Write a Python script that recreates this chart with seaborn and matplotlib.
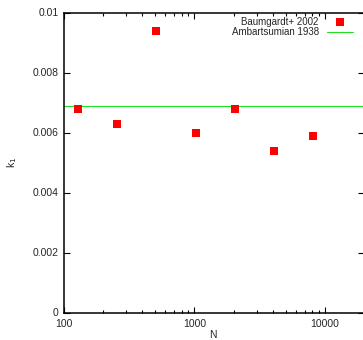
import numpy as np
import pandas as pd
import matplotlib
matplotlib.use("Agg")
import matplotlib.pyplot as plt
import seaborn as sns
from matplotlib.ticker import FixedLocator, FuncFormatter, LogLocator, NullFormatter

sns.set_style("ticks")
plt.rcParams['font.family'] = ['Liberation Sans', 'DejaVu Sans']

N_values = [128, 256, 512, 1024, 2048, 4096, 8192]
k1_values = [0.0068, 0.0063, 0.0094, 0.0060, 0.0068, 0.0054, 0.0059]
ambartsumian_k1 = 0.0069
series_label = "Baumgardt+ 2002"
line_label = "Ambartsumian 1938"
x_ticks = [100, 1000, 10000]
y_ticks = [0, 0.002, 0.004, 0.006, 0.008, 0.01]
y_tick_labels = ["0", "0.002", "0.004", "0.006", "0.008", "0.01"]

df = pd.DataFrame({"N": N_values, "k1": k1_values})

fig = plt.figure(figsize=(3.63, 3.40), dpi=100)
ax = fig.add_axes([64/363, (340-312.5)/340, 300/363, 300/340])

sns.scatterplot(data=df, x="N", y="k1", marker="s", color="#ff0000", s=36,
                linewidth=0, ax=ax, label=series_label, zorder=3)
ax.axhline(ambartsumian_k1, color="#22dd22", lw=0.8, label=line_label, zorder=2)

ax.set_xscale("log")
ax.set_xlim(100, 20000)
ax.set_ylim(0, 0.01)
ax.xaxis.set_major_locator(FixedLocator(x_ticks))
ax.xaxis.set_major_formatter(FuncFormatter(lambda v, p: f"{int(round(v))}"))
ax.xaxis.set_minor_locator(LogLocator(base=10, subs=np.arange(2, 10)))
ax.xaxis.set_minor_formatter(NullFormatter())
ax.yaxis.set_major_locator(FixedLocator(y_ticks))
ax.set_yticklabels(y_tick_labels)

for s in ax.spines.values():
    s.set_visible(True)
    s.set_linewidth(1.1)
    s.set_color("black")

ax.tick_params(which="both", direction="in", top=True, right=True,
               labelsize=7.5, color="black", width=0.8)
ax.tick_params(which="major", length=4, pad=4)
ax.tick_params(which="minor", length=2.5)
ax.tick_params(axis="x", which="major", pad=5)

ax.set_xlabel("N", fontsize=7.5)
ax.set_ylabel("k$_1$", fontsize=7.5)
ax.xaxis.set_label_coords(0.497, -0.06)
ax.yaxis.set_label_coords(-0.15, 0.5)

leg = ax.legend(loc="upper right", bbox_to_anchor=(0.963, 0.985), frameon=False,
                markerfirst=False, fontsize=7, handlelength=2.7, handletextpad=0.8,
                labelspacing=0.0, borderpad=0, borderaxespad=0)
try:
    leg._legend_box._children[-1]._children[0].align = "right"
except Exception:
    pass

fig.savefig("out.png", dpi=100)
